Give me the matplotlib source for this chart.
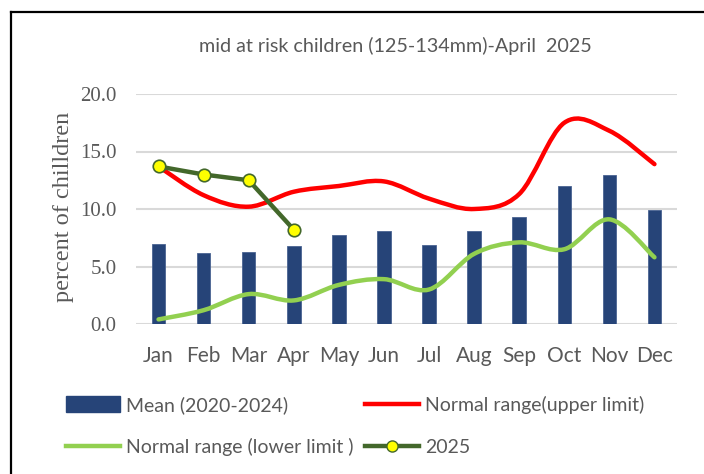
import matplotlib.pyplot as plt
import numpy as np
from matplotlib.path import Path
from matplotlib.patches import PathPatch, Patch
from matplotlib.lines import Line2D

# data
months = ['Jan', 'Feb', 'Mar', 'Apr', 'May', 'Jun', 'Jul', 'Aug', 'Sep', 'Oct', 'Nov', 'Dec']
mean_2020_2024 = [7.0, 6.2, 6.3, 6.8, 7.7, 8.1, 6.9, 8.1, 9.3, 12.0, 13.0, 9.9]
upper_limit = [13.7, 11.2, 10.2, 11.5, 12.0, 12.4, 10.9, 10.0, 11.3, 17.5, 16.8, 13.9]
lower_limit = [0.4, 1.2, 2.6, 2.05, 3.4, 3.9, 3.0, 6.1, 7.1, 6.5, 9.1, 5.8]
year_2025 = [13.7, 13.0, 12.5, 8.2]

BAR = '#264478'
RED = '#FF0000'
LIGHT = '#92D050'
DARK = '#43682B'
GREY = '#595959'
SANS = ['Lato', 'DejaVu Sans']
SERIF = ['Liberation Serif', 'DejaVu Serif']


def smooth_path(x, y):
    # Excel-like smoothed line: Bezier segments through every point
    pts = np.column_stack([x, y]).astype(float)
    verts = [pts[0]]
    codes = [Path.MOVETO]
    n = len(pts)
    for i in range(n - 1):
        p0 = pts[max(i - 1, 0)]
        p1 = pts[i]
        p2 = pts[i + 1]
        p3 = pts[min(i + 2, n - 1)]
        verts += [p1 + (p2 - p0) / 6, p2 - (p3 - p1) / 6, p2]
        codes += [Path.CURVE4] * 3
    return Path(verts, codes)


fig = plt.figure(figsize=(7.04, 4.74), dpi=100)
ax = fig.add_axes([136 / 704, 1 - 324 / 474, 541 / 704, 230 / 474])

x = np.arange(len(months))
ax.bar(x, mean_2020_2024, width=0.3, color=BAR, edgecolor='#4a6492', linewidth=0.6, zorder=2)

for vals, col in [(upper_limit, RED), (lower_limit, LIGHT)]:
    ax.add_patch(PathPatch(smooth_path(x, vals), fill=False, edgecolor=col,
                           linewidth=3.2, capstyle='round', joinstyle='round', zorder=3))

ax.plot(x[:len(year_2025)], year_2025, color=DARK, linewidth=3.2, marker='o',
        markersize=9, markerfacecolor='#FFFF00', markeredgecolor=DARK,
        markeredgewidth=1.2, zorder=4)

ax.set_xlim(-0.5, 11.5)
ax.set_ylim(0, 20)
ax.set_yticks([0, 5, 10, 15, 20])
ax.set_yticklabels([f'{v:.1f}' for v in [0, 5, 10, 15, 20]], fontsize=15,
                   family=SERIF, color=GREY)
ax.set_xticks(x)
ax.set_xticklabels(months, fontsize=15, family=SANS, color=GREY)
ax.tick_params(axis='both', length=0)
ax.tick_params(axis='y', pad=14)
ax.tick_params(axis='x', pad=16)
ax.grid(axis='y', color='#D9D9D9', linewidth=1.5, zorder=0)
ax.set_axisbelow(True)
for s in ax.spines.values():
    s.set_visible(False)

fig.text(63 / 704, 1 - 207 / 474, 'percent of chilldren', rotation=90, fontsize=17.5,
         family=SERIF, color=GREY, ha='center', va='center')
fig.text(395 / 704, 1 - 46 / 474, 'mid at risk children (125-134mm)-April  2025',
         fontsize=14.2, family=SANS, color=GREY, ha='center', va='center')

# chart frame (only left and top visible)
fig.add_artist(Line2D([11 / 704, 11 / 704], [0, 1 - 12 / 474], color='black', linewidth=1.6))
fig.add_artist(Line2D([11 / 704, 1], [1 - 12 / 474, 1 - 12 / 474], color='black', linewidth=1.6))

# legend, two columns placed separately
h_mean = Patch(facecolor=BAR, edgecolor=BAR)
h_upper = Line2D([], [], color=RED, linewidth=3.2)
h_lower = Line2D([], [], color=LIGHT, linewidth=3.2)
h_2025 = Line2D([], [], color=DARK, linewidth=3.2, marker='o', markersize=8,
                markerfacecolor='#FFFF00', markeredgecolor=DARK)
common = dict(frameon=False, handlelength=2.8, handleheight=0.85,
              handletextpad=0.3, labelspacing=1.25, borderpad=0, borderaxespad=0,
              prop={'family': SANS, 'size': 14}, labelcolor=GREY, loc='upper left')
leg1 = fig.legend([h_mean, h_lower], ['Mean (2020-2024)', 'Normal range (lower limit )'],
                  bbox_to_anchor=(66 / 704, 1 - 396 / 474), **common)
leg2 = fig.legend([h_upper, h_2025], ['Normal range(upper limit)', '2025'],
                  bbox_to_anchor=(365 / 704, 1 - 396 / 474), **common)

fig.savefig('out.png', dpi=100)
